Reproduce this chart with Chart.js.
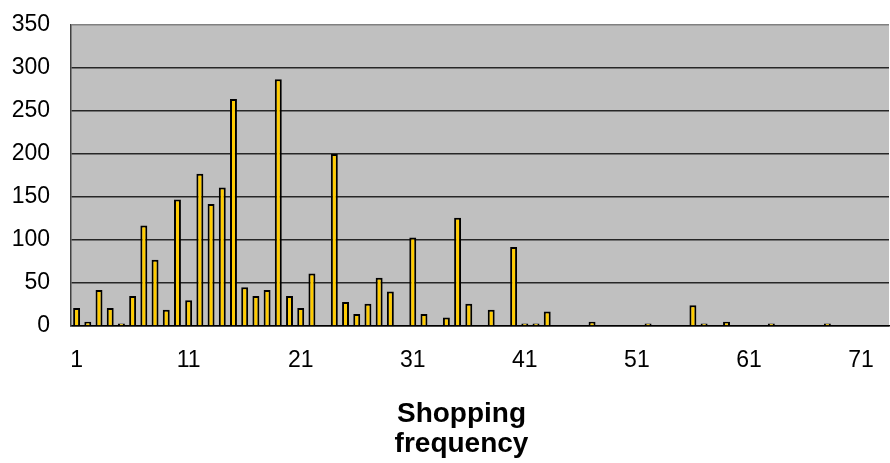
<!DOCTYPE html>
<html>
<head>
<meta charset="utf-8">
<script src="https://cdn.jsdelivr.net/npm/chart.js@4/dist/chart.umd.min.js"></script>
<style>
  html, body { margin: 0; padding: 0; background: #ffffff; }
  #wrap { width: 890px; height: 463px; }
</style>
</head>
<body>
<div id="wrap"><canvas id="chart" width="890" height="463"></canvas></div>
<script>
// Shopping frequency categories 1..73
const categories = Array.from({ length: 73 }, (_, i) => String(i + 1));

// Number of customers per shopping frequency
const counts = [
  21, 5, 42, 21, 3, 35, 117, 77, 19, 147,
  30, 177, 142, 161, 264, 45, 35, 42, 287, 35,
  21, 61, 0, 200, 28, 14, 26, 56, 40, 0,
  103, 14, 0, 10, 126, 26, 0, 19, 0, 92,
  3, 3, 17, 0, 0, 0, 5, 0, 0, 0,
  0, 3, 0, 0, 0, 24, 3, 0, 5, 0,
  0, 0, 3, 0, 0, 0, 0, 3, 0, 0,
  0, 0, 0
];

// Y axis range and step
const yMin = 0;
const yMax = 350;
const yStep = 50;

// Axis title lines
const xTitleLines = ['Shopping', 'frequency'];

const FONT = "'Liberation Sans', Arial, sans-serif";

// Grey plot background
const plotBackground = {
  id: 'plotBackground',
  beforeDraw(chart) {
    const { ctx, chartArea: a } = chart;
    ctx.save();
    ctx.fillStyle = '#c0c0c0';
    ctx.fillRect(a.left, a.top, a.right - a.left, a.bottom - a.top);
    ctx.restore();
  }
};

// Two-line bold title under the category axis
const axisTitle = {
  id: 'axisTitle',
  afterDraw(chart) {
    const ctx = chart.ctx;
    ctx.save();
    ctx.fillStyle = '#000000';
    ctx.font = "bold 28px " + FONT;
    ctx.textAlign = 'center';
    ctx.textBaseline = 'alphabetic';
    ctx.fillText(xTitleLines[0], 461.5, 422);
    ctx.fillText(xTitleLines[1], 461.5, 452);
    ctx.restore();
  }
};

new Chart(document.getElementById('chart'), {
  type: 'bar',
  data: {
    labels: categories,
    datasets: [{
      data: counts,
      backgroundColor: '#ffcc00',
      borderColor: '#000000',
      borderWidth: 2,
      categoryPercentage: 1.0,
      barPercentage: 0.62
    }]
  },
  options: {
    responsive: false,
    animation: false,
    devicePixelRatio: 1,
    layout: { padding: { top: 25, right: 1, bottom: 0, left: 0 } },
    plugins: {
      legend: { display: false },
      tooltip: { enabled: false },
      title: { display: false }
    },
    scales: {
      x: {
        type: 'category',
        offset: true,
        grid: { display: false, drawTicks: false },
        border: { display: true, color: '#000000', width: 1.5 },
        ticks: {
          autoSkip: false,
          maxRotation: 0,
          minRotation: 0,
          padding: 21,
          color: '#000000',
          font: { family: FONT, size: 23 },
          callback: function (value, index) {
            return index % 10 === 0 ? this.getLabelForValue(value) : '';
          }
        },
        afterFit(scale) {
          scale.height = 137;
          scale.paddingLeft = 0;
          scale.paddingRight = 0;
        }
      },
      y: {
        min: yMin,
        max: yMax,
        ticks: {
          stepSize: yStep,
          padding: 21,
          color: '#000000',
          font: { family: FONT, size: 23 }
        },
        grid: {
          drawTicks: false,
          lineWidth: 1.5,
          color: (c) => (c.tick && c.tick.value === yMax ? '#808080' : '#262626')
        },
        border: { display: true, color: '#404040', width: 1.5 },
        afterFit(scale) {
          scale.width = 71;
          scale.paddingTop = 0;
          scale.paddingBottom = 0;
        }
      }
    }
  },
  plugins: [plotBackground, axisTitle]
});
</script>
</body>
</html>
